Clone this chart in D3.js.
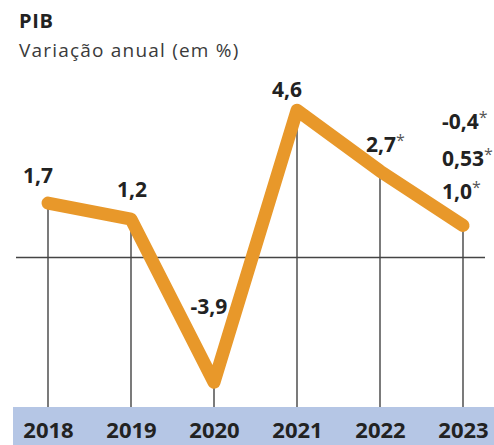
<!DOCTYPE html>
<html>
<head>
<meta charset="utf-8">
<script src="https://cdn.jsdelivr.net/npm/d3@7"></script>
<style>
  html, body { margin: 0; padding: 0; background: #fff; }
  svg { display: block; font-family: "Open Sans", sans-serif; }
</style>
</head>
<body>
<svg id="chart" width="494" height="445"></svg>
<script>
const years = ["2018", "2019", "2020", "2021", "2022", "2023"];
const values = [1.7, 1.2, -3.9, 4.6, 2.7, 1.0];
const valueLabels = ["1,7", "1,2", "-3,9", "4,6", "2,7", "1,0"];
const estimated = [false, false, false, false, true, true];
const extraLabels2023 = ["-0,4", "0,53"];
const title = "PIB";
const subtitle = "Variação anual (em %)";

const svg = d3.select("#chart");
const W = 494, H = 445;
const bandTop = 407;

const x = d3.scalePoint().domain(years).range([48, 463]);
const y = d3.scaleLinear().domain([-5, 5]).range([257.5 + 160, 257.5 - 160]);

svg.append("rect").attr("width", W).attr("height", H).attr("fill", "#fff");

// title
svg.append("text").attr("x", 19).attr("y", 28)
  .attr("font-size", 20).attr("font-weight", 700).attr("letter-spacing", 0.6)
  .attr("fill", "#222").text(title);
svg.append("text").attr("x", 19).attr("y", 57)
  .attr("font-size", 19).attr("letter-spacing", 1.2).attr("fill", "#3a3a3a").text(subtitle);

// bottom band
svg.append("rect").attr("x", 13).attr("y", bandTop).attr("width", W - 13).attr("height", H - bandTop)
  .attr("fill", "#b5c6e5");

// x axis labels via d3 axis
const axisG = svg.append("g").attr("transform", `translate(0,${bandTop})`)
  .call(d3.axisBottom(x).tickSize(0).tickPadding(0));
axisG.select(".domain").remove();
axisG.selectAll("text")
  .attr("y", 31).attr("dy", 0)
  .attr("font-family", "Open Sans, sans-serif")
  .attr("font-size", 22).attr("font-weight", 700).attr("fill", "#222");

// vertical grid lines
svg.append("g").selectAll("line").data(years).join("line")
  .attr("x1", d => x(d)).attr("x2", d => x(d))
  .attr("y1", (d, i) => y(values[i])).attr("y2", bandTop)
  .attr("stroke", "#333").attr("stroke-width", 1.3);

// zero line
svg.append("line").attr("x1", 16).attr("x2", 485).attr("y1", y(0)).attr("y2", y(0))
  .attr("stroke", "#444").attr("stroke-width", 1.3);

// line
const line = d3.line().x((d, i) => x(years[i])).y(d => y(d));
svg.append("path").datum(values).attr("d", line)
  .attr("fill", "none").attr("stroke", "#e8982a").attr("stroke-width", 13)
  .attr("stroke-linejoin", "round").attr("stroke-linecap", "round");

// labels
const labelLayout = [
  { dx: -10, dy: -20, anchor: "middle" },
  { dx: 1, dy: -22, anchor: "middle" },
  { dx: -5, dy: -68, anchor: "middle" },
  { dx: -10, dy: -13, anchor: "middle" },
  { dx: -14, dy: -19, anchor: "start" },
  { dx: -21, dy: -27, anchor: "start" }
];
const extraOffsets = [-70, -33];
function addLabel(text, px, py, anchor, star) {
  const t = svg.append("text").attr("x", px).attr("y", py)
    .attr("text-anchor", anchor).attr("font-size", 21).attr("font-weight", 700).attr("fill", "#222");
  t.append("tspan").text(text);
  if (star) {
    t.append("tspan").attr("dy", -6).attr("font-size", 16).attr("font-weight", 400).attr("fill", "#555").text("*");
  }
}
values.forEach((v, i) => {
  const L = labelLayout[i];
  addLabel(valueLabels[i], x(years[i]) + L.dx, y(v) + L.dy, L.anchor, estimated[i]);
});
// additional 2023 projections stacked above
const last = values.length - 1;
extraLabels2023.forEach((lab, k) => {
  const L = labelLayout[last];
  addLabel(lab, x(years[last]) + L.dx, y(values[last]) + L.dy + extraOffsets[k], "start", true);
});
</script>
</body>
</html>
